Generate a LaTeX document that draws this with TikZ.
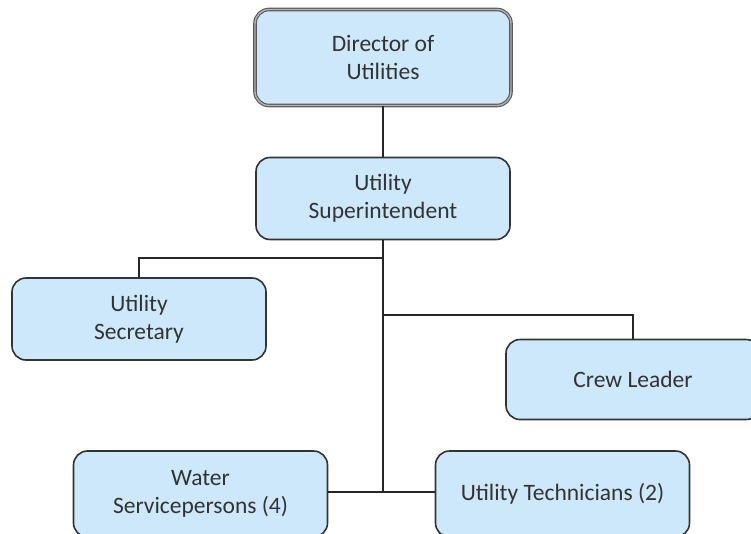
\documentclass[tikz,border=0pt]{standalone}
\usepackage{fontspec}
\setmainfont{Carlito}
\usepackage{xcolor}
\usepackage{tikz}
\definecolor{boxfill}{HTML}{CCE8FA}
\definecolor{boxline}{HTML}{333333}

\begin{document}
\begin{tikzpicture}[x=1pt, y=-1pt,
        unit/.style={draw=boxline, line width=1.6pt, fill=boxfill, rounded corners=14pt, align=center, text=boxline, font=\fontsize{23.5}{28}\selectfont, minimum width=254pt, minimum height=82pt, inner sep=0pt},
        link/.style={draw=black!85, line width=1.6pt}]
            \useasboundingbox (0,0) rectangle (751,533);
            \node (dir) at (383, 57.5) [unit, minimum width=256pt, minimum height=96pt, draw=black!65, double=black!30, double distance=1.4pt, line width=1.1pt] {Director of\\Utilities};
            \node (sup) at (383, 198.5) [unit] {Utility\\Superintendent};
            \node (sec) at (139, 319) [unit] {Utility\\Secretary};
            \node (crew) at (633, 379.5) [unit, minimum height=80pt] {Crew Leader};
            \node (wat) at (200.5, 494) [unit, minimum height=86pt] {Water\\Servicepersons (4)};
            \node (tech) at (562.5, 494) [unit, minimum height=86pt] {Utility Technicians (2)};
            \coordinate (j1) at (383, 258);
            \coordinate (j2) at (383, 315);
            \coordinate (j3) at (383, 492);
            \draw [link] (dir) -- (sup);
            \draw [link] (sup) -- (j3);
            \draw [link] (j1) -| (sec);
            \draw [link] (j2) -| (crew);
            \draw [link] (wat.east |- j3) -- (tech.west |- j3);
        \end{tikzpicture}
\end{document}
